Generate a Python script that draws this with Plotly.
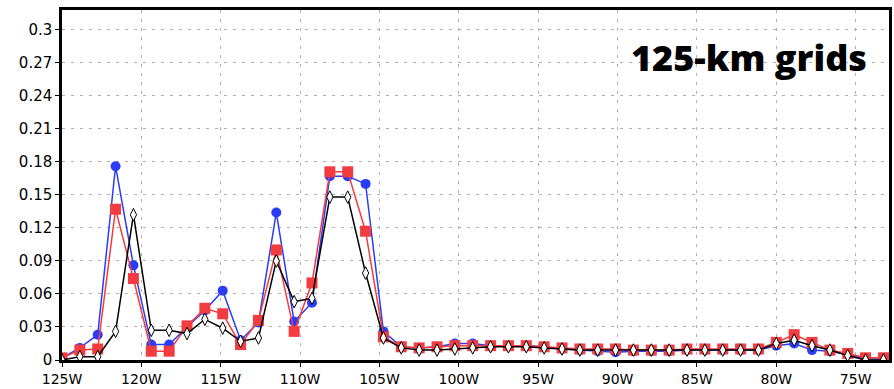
import plotly.graph_objects as go

n_points = 47
lon_start = -125.0
lon_step = 1.125
lons = [lon_start + lon_step * k for k in range(n_points)]

blue_vals = [0.002, 0.011, 0.023, 0.176, 0.086, 0.014, 0.014, 0.030, 0.045, 0.063,
             0.018, 0.034, 0.134, 0.035, 0.052, 0.167, 0.167, 0.160, 0.026, 0.012,
             0.011, 0.012, 0.015, 0.015, 0.013, 0.013, 0.013, 0.012, 0.010, 0.009,
             0.008, 0.007, 0.008, 0.008, 0.008, 0.009, 0.009, 0.009, 0.009, 0.009,
             0.013, 0.015, 0.009, 0.008, 0.005, 0.001, 0.001]
red_vals = [0.002, 0.009, 0.010, 0.137, 0.074, 0.008, 0.008, 0.031, 0.047, 0.042,
            0.014, 0.036, 0.100, 0.026, 0.070, 0.171, 0.171, 0.117, 0.021, 0.012,
            0.011, 0.012, 0.013, 0.013, 0.013, 0.013, 0.013, 0.012, 0.011, 0.010,
            0.010, 0.010, 0.009, 0.009, 0.009, 0.010, 0.010, 0.010, 0.010, 0.010,
            0.016, 0.023, 0.016, 0.009, 0.006, 0.002, 0.002]
black_vals = [0.000, 0.003, 0.003, 0.026, 0.132, 0.027, 0.027, 0.024, 0.037, 0.029,
              0.017, 0.020, 0.090, 0.053, 0.056, 0.148, 0.148, 0.079, 0.020, 0.011,
              0.009, 0.009, 0.010, 0.011, 0.012, 0.012, 0.012, 0.011, 0.010, 0.009,
              0.009, 0.009, 0.009, 0.009, 0.009, 0.009, 0.009, 0.009, 0.009, 0.009,
              0.015, 0.018, 0.013, 0.009, 0.004, 0.000, 0.000]

x_tickvals = [-125, -120, -115, -110, -105, -100, -95, -90, -85, -80, -75]
x_ticktext = ["125W", "120W", "115W", "110W", "105W", "100W", "95W", "90W", "85W", "80W", "75W"]
y_tickvals = [0, 0.03, 0.06, 0.09, 0.12, 0.15, 0.18, 0.21, 0.24, 0.27, 0.3]
y_ticktext = ["0", "0.03", "0.06", "0.09", "0.12", "0.15", "0.18", "0.21", "0.24", "0.27", "0.3"]

fig = go.Figure()
fig.add_trace(go.Scatter(x=lons, y=blue_vals, mode="lines+markers",
                         line=dict(color="#2a3cf5", width=1.5),
                         marker=dict(symbol="circle", size=10, color="#2a3cf5")))
fig.add_trace(go.Scatter(x=lons, y=red_vals, mode="lines+markers",
                         line=dict(color="#f23c40", width=1.5),
                         marker=dict(symbol="square", size=11, color="#f23c40")))
fig.add_trace(go.Scatter(x=lons, y=black_vals, mode="lines+markers",
                         line=dict(color="black", width=1.5),
                         marker=dict(symbol="diamond-tall", size=9, color="white",
                                     line=dict(color="black", width=1))))

fig.add_annotation(text="125-km grids", xref="paper", yref="paper",
                   x=0.976, y=0.865, xanchor="right", yanchor="middle", showarrow=False,
                   font=dict(family="Open Sans", size=36, color="black", weight=800))

fig.update_layout(
    width=894, height=389,
    margin=dict(l=62, r=2, t=10, b=27),
    plot_bgcolor="white", paper_bgcolor="white",
    showlegend=False,
    font=dict(family="DejaVu Sans", size=14, color="black"),
)
fig.update_xaxes(range=[-125, -72.9], tickvals=x_tickvals, ticktext=x_ticktext,
                 tickfont=dict(size=14),
                 showgrid=True, gridcolor="#b0b0b0", griddash="3px,6px", gridwidth=1,
                 showline=True, linecolor="black", linewidth=2.5, mirror=True,
                 ticks="outside", ticklen=4, tickcolor="black", zeroline=False)
fig.update_yaxes(range=[0, 0.318], tickvals=y_tickvals, ticktext=y_ticktext,
                 tickfont=dict(size=15),
                 showgrid=True, gridcolor="#b0b0b0", griddash="3px,6px", gridwidth=1,
                 showline=True, linecolor="black", linewidth=2.5, mirror=True,
                 ticks="outside", ticklen=4, tickcolor="black", zeroline=False)

fig.write_html("out.html", config={"displayModeBar": False},
               post_script="document.body.style.margin='0';document.body.style.overflow='hidden';")
